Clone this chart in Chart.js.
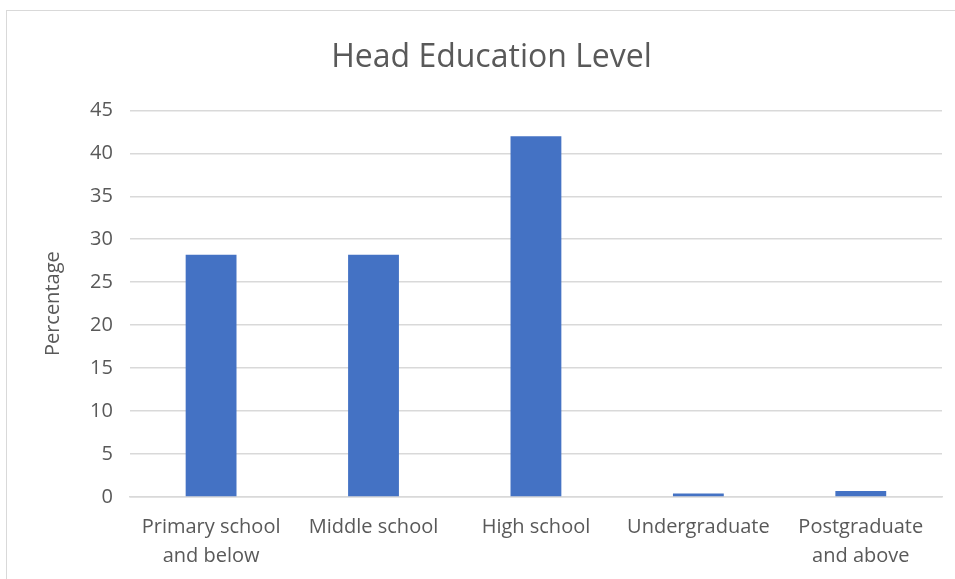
<!DOCTYPE html>
<html>
<head>
<meta charset="utf-8">
<script src="https://cdn.jsdelivr.net/npm/chart.js@4"></script>
<style>
  html, body { margin: 0; padding: 0; background: #fff; overflow: hidden; }
  #frame {
    position: absolute; left: 6px; top: 10px;
    width: 968px; height: 600px;
    border: 1px solid #d9d9d9; background: #fff;
  }
  #frame canvas { display: block; }
</style>
</head>
<body>
<div id="frame"><canvas id="myChart" width="968" height="576"></canvas></div>
<script>
var categories = [
  ["Primary school", "and below"],
  "Middle school",
  "High school",
  "Undergraduate",
  ["Postgraduate", "and above"]
];
var percentages = [28.2, 28.2, 42.0, 0.4, 0.7];
var yTicks = [0, 5, 10, 15, 20, 25, 30, 35, 40, 45];

var textColor = "#595959";
var gridColor = "#d9d9d9";
var fontFamily = "'Open Sans', sans-serif";

var ctx = document.getElementById("myChart").getContext("2d");
var myChart = new Chart(ctx, {
  type: "bar",
  data: {
    labels: categories,
    datasets: [
      {
        label: "Percentage",
        data: percentages,
        backgroundColor: "#4472c4",
        categoryPercentage: 1,
        barPercentage: 0.313,
      },
    ],
  },
  options: {
    responsive: false,
    animation: false,
    layout: { padding: { left: 34, right: 33, top: 28, bottom: 0 } },
    plugins: {
      legend: { display: false },
      tooltip: { enabled: false },
      title: {
        display: true,
        text: "Head Education Level",
        color: textColor,
        font: { family: fontFamily, size: 32, weight: "normal" },
        padding: { top: 0, bottom: 33 },
      },
    },
    scales: {
      y: {
        min: 0,
        max: 45,
        afterBuildTicks: function (axis) {
          axis.ticks = yTicks.map(function (v) { return { value: v }; });
        },
        ticks: {
          color: textColor,
          font: { family: fontFamily, size: 20 },
          padding: 17,
        },
        grid: { color: gridColor, lineWidth: 1.6, drawTicks: false },
        border: { display: false },
        title: {
          display: true,
          text: "Percentage",
          color: textColor,
          font: { family: fontFamily, size: 20 },
          padding: { top: 0, bottom: 8 },
        },
      },
      x: {
        ticks: {
          color: textColor,
          font: { family: fontFamily, size: 20, lineHeight: 1.45 },
          padding: 16,
          maxRotation: 0,
          autoSkip: false,
        },
        grid: { display: false, drawTicks: false },
        border: { color: gridColor, width: 1.6 },
      },
    },
  },
});
</script>
</body>
</html>
